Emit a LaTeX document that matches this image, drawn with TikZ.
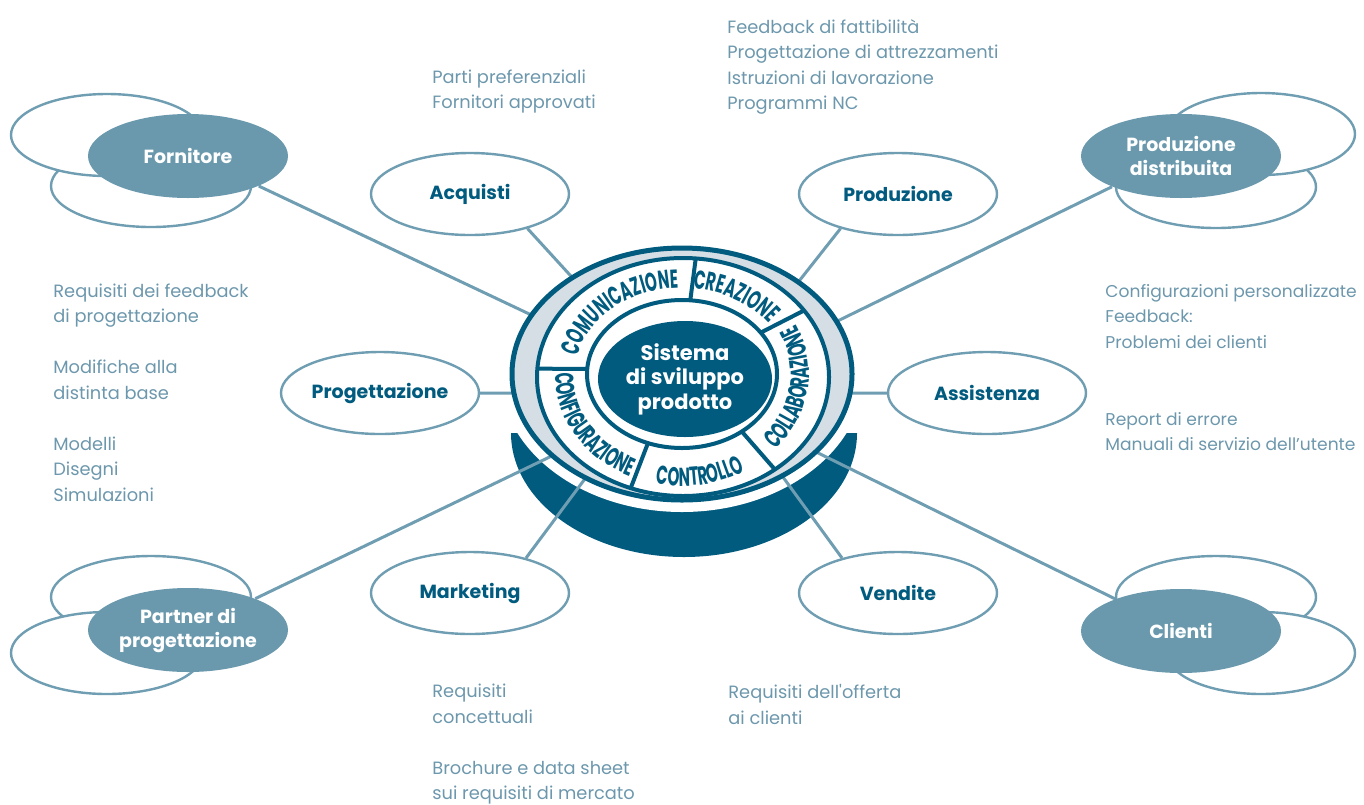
\documentclass[tikz,border=0pt]{standalone}
\usepackage{fontspec}
\setmainfont{Poppins}
\newfontfamily\notefont{Poppins}
\newfontfamily\segfont[FakeStretch=0.58]{Poppins}
\usetikzlibrary{calc,shapes.geometric,decorations.text}

\definecolor{ringblue}{RGB}{0,91,127}
\definecolor{hubblue}{RGB}{106,153,173}
\definecolor{wireblue}{RGB}{111,157,178}
\definecolor{noteblue}{RGB}{108,151,172}
\definecolor{ringgray}{RGB}{213,222,228}

\pgfdeclarelayer{back}
\pgfdeclarelayer{wires}
\pgfsetlayers{back,wires,main}

\newcommand\bubblefont{\bfseries\fontsize{9.5}{12}\selectfont}

\tikzset{
  hub/.style={ellipse,fill=hubblue,text=white,font=\bubblefont,align=center,
    minimum width=100pt,minimum height=42pt,inner sep=0pt},
  echo/.style={ellipse,draw=wireblue,line width=1.2pt,fill=white,
    minimum height=41pt,inner sep=0pt},
  dept/.style={ellipse,draw=wireblue,line width=1.2pt,fill=white,text=ringblue,
    font=\bubblefont,minimum width=99pt,minimum height=41pt,inner sep=0pt},
  note/.style={anchor=north west,inner sep=0pt,align=left,text=noteblue,
    font=\notefont\fontsize{8.9}{12.75}\selectfont},
  narrownote/.style={note,font=\notefont\fontsize{8.55}{12.75}\selectfont},
  wire/.style={draw=wireblue,line width=1.5pt},
  segtext/.style={decorate,decoration={text along path,text align=center,
    text color=ringblue,text={|\segfont\bfseries\fontsize{13}{13}\selectfont|#1}}}
}

\begin{document}
\begin{tikzpicture}[x=0.5pt,y=0.5pt]
\useasboundingbox (0,0) rectangle (1364,-804);

  \coordinate (ring) at (682,-374);
  \coordinate (seg) at (683,-377);

%%% outer partners %%%

  \node (fornA) at (151,-186) [echo,minimum width=100pt] {};
  \node (fornB) at (107,-135) [echo,minimum width=96pt] {};
  \node (forn) at (188,-156) [hub] {Fornitore};

  \node (distA) at (1216,-187) [echo,minimum width=100pt] {};
  \node (distB) at (1261,-134) [echo,minimum width=94pt] {};
  \node (dist) at (1181,-156) [hub] {Produzione\\distribuita};

  \node (partA) at (151,-597) [echo,minimum width=100pt] {};
  \node (partB) at (107,-653) [echo,minimum width=96pt] {};
  \node (part) at (188,-630) [hub] {Partner di\\progettazione};

  \node (cliA) at (1216,-597) [echo,minimum width=100pt] {};
  \node (cliB) at (1261,-653) [echo,minimum width=94pt] {};
  \node (cli) at (1181,-631) [hub] {Clienti};

%%% departments %%%

  \node (acq) at (470,-194) [dept] {Acquisti};
  \node (prod) at (898,-194) [dept] {Produzione};
  \node (prog) at (380,-393) [dept] {Progettazione};
  \node (assist) at (987,-393) [dept] {Assistenza};
  \node (mkt) at (470,-593) [dept] {Marketing};
  \node (vend) at (898,-593) [dept] {Vendite};

%%% notes %%%

\draw (432,-69) node [note] {Parti preferenziali\\Fornitori approvati};
\draw (727,-19) node [note] {Feedback di fattibilità\\Progettazione di attrezzamenti\\
  Istruzioni di lavorazione\\Programmi NC};
\draw (53,-283) node [note] {Requisiti dei feedback\\di progettazione\\[12.75pt]
  Modifiche alla\\distinta base\\[12.75pt]Modelli\\Disegni\\Simulazioni};
\draw (1105,-284) node [narrownote] {Configurazioni personalizzate\\Feedback:\\Problemi dei clienti};
\draw (1105,-412) node [narrownote] {Report di errore\\Manuali di servizio dell’utente};
\draw (432,-684) node [note] {Requisiti\\concettuali\\[12.75pt]
  Brochure e data sheet\\sui requisiti di mercato};
\draw (728,-684) node [note] {Requisiti dell'offerta\\ai clienti};

%%% base of the disc %%%

\begin{pgfonlayer}{back}
  \fill[ringblue] (511,-433) arc[start angle=180,end angle=360,x radius=173,y radius=124] -- cycle;
  \fill[white] (ring) ellipse[x radius=182,y radius=138];
\end{pgfonlayer}

%%% connectors %%%

  \coordinate (fornE) at (561,-329);
  \coordinate (acqE) at (580,-286);
  \coordinate (prodE) at (792,-290);
  \coordinate (distE) at (813,-333);
  \coordinate (progE) at (530,-393);
  \coordinate (assistE) at (838,-393);
  \coordinate (partE) at (560,-452);
  \coordinate (mktE) at (590,-472);
  \coordinate (vendE) at (780,-473);
  \coordinate (cliE) at (810,-449);

\begin{pgfonlayer}{wires}
\draw[wire]
   (forn.-23) -- (fornE)
   (acq.-31) -- (acqE)
   (prod.-149) -- (prodE)
   (dist.204) -- (distE)
   (prog.0) -- (progE)
   (assist.180) -- (assistE)
   (part.25) -- (partE)
   (mkt.32) -- (mktE)
   (vend.148) -- (vendE)
   (cli.154) -- (cliE);
\end{pgfonlayer}

%%% the disc %%%

\draw[ringblue,line width=2.5pt,fill=ringgray] (ring) ellipse[x radius=170,y radius=126];
\draw[ringblue,line width=2pt,fill=white] (seg) ellipse[x radius=146,y radius=119];
\draw[ringblue,line width=2pt,fill=white] (ring) ellipse[x radius=95,y radius=74];

\foreach \a in {85,34,-51,-111,176}
  \draw[ringblue,line width=2pt] ($(ring)+(\a:95 and 74)$) -- ($(seg)+(\a:146 and 119)$);

  \node (core) at (685,-379) [ellipse,fill=ringblue,text=white,align=center,
    minimum width=87pt,minimum height=58pt,inner sep=0pt,
    font=\bfseries\fontsize{10.5}{12.3}\selectfont] {Sistema\\di sviluppo\\prodotto};

\path[segtext=COMUNICAZIONE] ($(ring)+(178:107 and 86)$)
   arc[start angle=178,end angle=84,x radius=107,y radius=86];
\path[segtext=CREAZIONE] ($(ring)+(94:107 and 86)$)
   arc[start angle=94,end angle=24,x radius=107,y radius=86];
\path[segtext=COLLABORAZIONE] ($(ring)+(-52:127 and 112)$)
   arc[start angle=-52,end angle=36,x radius=127,y radius=112];
\path[segtext=CONTROLLO] ($(ring)+(-112:127 and 112)$)
   arc[start angle=-112,end angle=-50,x radius=127,y radius=112];
\path[segtext=CONFIGURAZIONE] ($(ring)+(174:127 and 112)$)
   arc[start angle=174,end angle=251,x radius=127,y radius=112];

\end{tikzpicture}
\end{document}
